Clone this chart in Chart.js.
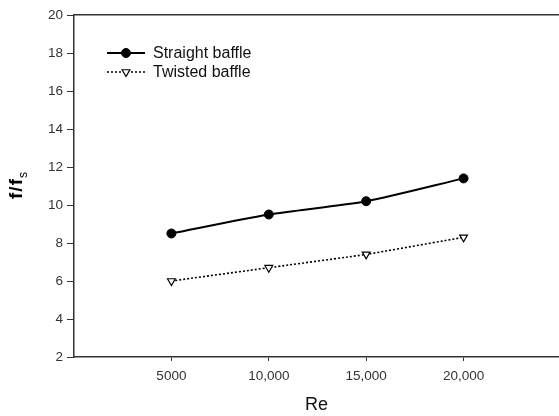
<!DOCTYPE html>
<html>
<head>
<meta charset="utf-8">
<script src="https://cdn.jsdelivr.net/npm/chart.js@4/dist/chart.umd.min.js"></script>
<style>
  html, body { margin: 0; padding: 0; background: #fff; }
  #wrap { width: 559px; height: 416px; }
</style>
</head>
<body>
<div id="wrap"><canvas id="chart" width="559" height="416"></canvas></div>
<script>
// data
const reValues = [5000, 10000, 15000, 20000];
const xTickLabels = ['5000', '10,000', '15,000', '20,000'];
const straightBaffle = [8.5, 9.5, 10.2, 11.4];
const twistedBaffle = [6.0, 6.7, 7.4, 8.3];
const seriesNames = ['Straight baffle', 'Twisted baffle'];

const FONT = "'Liberation Sans', Arial, sans-serif";
const INK = '#333';

function toPoints(ys) {
  return reValues.map((x, i) => ({ x: x, y: ys[i] }));
}

// legend + y title drawn inside the canvas
const extras = {
  id: 'extras',
  afterDraw(chart) {
    const ctx = chart.ctx;
    const h = Chart.helpers;
    ctx.save();

    // legend, top left inside plot
    const rows = [53, 72];
    chart.data.datasets.forEach((ds, i) => {
      const y = rows[i];
      ctx.beginPath();
      ctx.setLineDash(ds.borderDash || []);
      ctx.lineWidth = ds.borderWidth;
      ctx.strokeStyle = ds.borderColor;
      ctx.moveTo(107, y);
      ctx.lineTo(145, y);
      ctx.stroke();
      ctx.setLineDash([]);
      ctx.fillStyle = ds.pointBackgroundColor;
      ctx.strokeStyle = ds.pointBorderColor;
      ctx.lineWidth = ds.pointBorderWidth;
      h.drawPoint(ctx, {
        pointStyle: ds.pointStyle,
        rotation: ds.pointRotation || 0,
        radius: ds.pointRadius,
        borderWidth: ds.pointBorderWidth
      }, 126, y);
      ctx.fillStyle = '#111';
      ctx.font = '16px ' + FONT;
      ctx.textAlign = 'left';
      ctx.textBaseline = 'middle';
      ctx.fillText(ds.label, 153, y + 0.5);
    });

    // y axis title f/f with subscript s
    const area = chart.chartArea;
    ctx.translate(17, (area.top + area.bottom) / 2);
    ctx.rotate(-Math.PI / 2);
    ctx.fillStyle = '#000';
    ctx.textBaseline = 'middle';
    ctx.font = 'bold 19px ' + FONT;
    const main = 'f/f';
    const wMain = ctx.measureText(main).width + 2;
    ctx.font = '12px ' + FONT;
    const wSub = ctx.measureText('s').width;
    const x0 = -(wMain + wSub) / 2;
    ctx.font = 'bold 19px ' + FONT;
    ctx.textAlign = 'left';
    ctx.letterSpacing = '1px';
    ctx.fillText(main, x0, 0);
    ctx.letterSpacing = '0px';
    ctx.font = '12px ' + FONT;
    ctx.fillText('s', x0 + wMain + 1, 7);
    ctx.restore();
  }
};

function noSidePadding(scale) {
  scale.paddingLeft = 0;
  scale.paddingRight = 0;
}

new Chart(document.getElementById('chart'), {
  type: 'line',
  data: {
    datasets: [
      {
        label: seriesNames[0],
        data: toPoints(straightBaffle),
        borderColor: '#000',
        borderWidth: 2,
        tension: 0.25,
        pointStyle: 'circle',
        pointRadius: 4.5,
        pointBackgroundColor: '#000',
        pointBorderColor: '#000',
        pointBorderWidth: 1
      },
      {
        label: seriesNames[1],
        data: toPoints(twistedBaffle),
        borderColor: '#000',
        borderWidth: 1.6,
        borderDash: [2, 2],
        tension: 0.1,
        pointStyle: 'triangle',
        pointRotation: 180,
        pointRadius: 4.5,
        pointBackgroundColor: '#fff',
        pointBorderColor: '#000',
        pointBorderWidth: 1.2
      }
    ]
  },
  plugins: [extras],
  options: {
    responsive: false,
    animation: false,
    layout: { padding: 0, autoPadding: false },
    plugins: {
      legend: { display: false },
      tooltip: { enabled: false }
    },
    scales: {
      x: {
        type: 'linear',
        position: 'bottom',
        min: 0,
        max: 24900,
        afterBuildTicks: (scale) => {
          scale.ticks = reValues.map(v => ({ value: v }));
        },
        afterFit: (scale) => { scale.height = 59; noSidePadding(scale); },
        ticks: {
          color: INK,
          font: { family: FONT, size: 13.5 },
          padding: 7,
          maxRotation: 0,
          callback: (v) => xTickLabels[reValues.indexOf(v)]
        },
        grid: {
          drawOnChartArea: false,
          drawTicks: true,
          tickLength: 4,
          tickColor: INK
        },
        border: { display: true, color: INK, width: 1.5 },
        title: {
          display: true,
          text: 'Re',
          color: '#111',
          font: { family: FONT, size: 18 },
          padding: { top: 0, bottom: 0 }
        }
      },
      xTop: {
        type: 'linear',
        position: 'top',
        min: 0,
        max: 24900,
        afterFit: (scale) => { scale.height = 15; noSidePadding(scale); },
        ticks: { display: false },
        grid: { drawOnChartArea: false, drawTicks: false },
        border: { display: true, color: INK, width: 1.5 }
      },
      y: {
        min: 2,
        max: 20,
        afterFit: (scale) => { scale.width = 74; },
        ticks: {
          stepSize: 2,
          color: INK,
          font: { family: FONT, size: 13.5 },
          padding: 4
        },
        grid: {
          drawOnChartArea: false,
          drawTicks: true,
          tickLength: 7,
          tickColor: INK
        },
        border: { display: true, color: INK, width: 1.5 }
      }
    }
  }
});
</script>
</body>
</html>
